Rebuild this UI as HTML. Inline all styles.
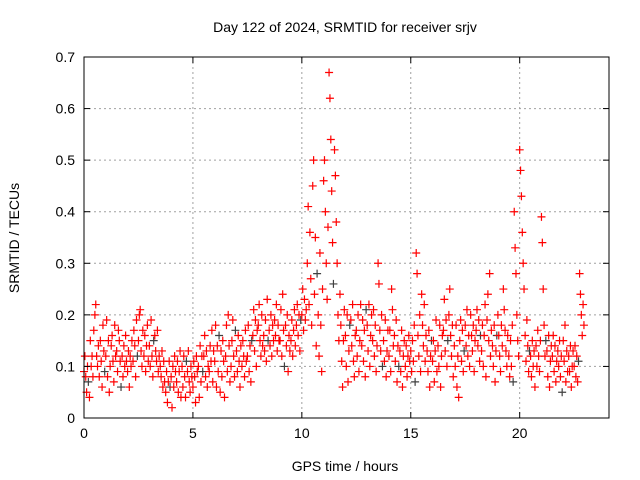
<!DOCTYPE html>
<html><head><meta charset="utf-8"><style>
body{margin:0;background:#fff}
svg{display:block;font-family:"Liberation Sans",sans-serif;font-size:14px}
</style></head><body>
<svg id="chart" width="640" height="480">
<text x="345" y="32" text-anchor="middle">Day 122 of 2024, SRMTID for receiver srjv</text>
<text x="345" y="471" text-anchor="middle">GPS time / hours</text>
<text transform="translate(19,238) rotate(-90)" text-anchor="middle">SRMTID / TECUs</text>
<g id="grid"></g><g id="marks"></g><g id="axes"></g>
</svg>
<script>
const xTicks=[0,5,10,15,20];
const yTicks=[0,0.1,0.2,0.3,0.4,0.5,0.6,0.7];
const yTickLabels=["0","0.1","0.2","0.3","0.4","0.5","0.6","0.7"];
const binHours=[0,0.25,0.5,0.75,1,1.25,1.5,1.75,2,2.25,2.5,2.75,3,3.25,3.5,3.75,4,4.25,4.5,4.75,5,5.25,5.5,5.75,6,6.25,6.5,6.75,7,7.25,7.5,7.75,8,8.25,8.5,8.75,9,9.25,9.5,9.75,10,10.25,10.5,10.75,11,11.25,11.5,11.75,12,12.25,12.5,12.75,13,13.25,13.5,13.75,14,14.25,14.5,14.75,15,15.25,15.5,15.75,16,16.25,16.5,16.75,17,17.25,17.5,17.75,18,18.25,18.5,18.75,19,19.25,19.5,19.75,20,20.25,20.5,20.75,21,21.25,21.5,21.75,22,22.25,22.5,22.75];
const binValues=[
[.09,.12,.08,.05,.10,.07],[.04,.15,.10,.12,.08,.17],[.20,.22,.12,.10,.14,.08],[.15,.11,.06,.18,.13,.09],
[.12,.19,.08,.15,.05,.10],[.14,.16,.11,.07,.18,.12],[.13,.09,.17,.15,.11,.06],[.12,.08,.14,.10,.16,.11],
[.09,.13,.06,.12,.10,.15],[.11,.17,.14,.08,.19,.12],[.15,.20,.21,.13,.10,.17],[.12,.16,.09,.14,.18,.11],
[.14,.10,.19,.12,.08,.15],[.16,.13,.11,.17,.09,.12],[.10,.08,.13,.06,.11,.07],[.05,.09,.03,.07,.11,.06],
[.08,.02,.10,.06,.12,.09],[.07,.11,.05,.09,.13,.04],[.10,.06,.12,.08,.04,.11],[.09,.13,.07,.05,.10,.08],
[.06,.11,.08,.03,.12,.09],[.10,.04,.14,.07,.12,.09],[.12,.16,.08,.13,.06,.10],[.09,.14,.11,.17,.07,.13],
[.11,.18,.06,.14,.09,.16],[.05,.13,.08,.15,.11,.04],[.12,.18,.09,.20,.14,.07],[.10,.15,.19,.12,.08,.17],
[.13,.09,.16,.11,.06,.14],[.10,.15,.12,.08,.17,.11],[.12,.18,.09,.14,.07,.15],[.16,.21,.13,.19,.10,.17],
[.18,.22,.15,.12,.20,.14],[.16,.13,.19,.11,.23,.15],[.17,.14,.20,.12,.18,.15],[.19,.16,.22,.13,.18,.15],
[.15,.21,.12,.24,.17,.10],[.18,.14,.20,.09,.16,.13],[.15,.19,.12,.17,.21,.14],[.18,.22,.16,.20,.13,.19],
[.20,.25,.17,.23,.19,.21],[.30,.41,.22,.36,.27,.18],[.45,.50,.24,.35,.14,.28],[.20,.12,.32,.18,.09,.25],
[.46,.50,.40,.30,.23,.37],[.67,.62,.54,.44,.34,.26],[.52,.47,.38,.30,.20,.15],[.24,.18,.11,.06,.15,.21],
[.16,.10,.20,.07,.13,.18],[.19,.14,.22,.11,.08,.16],[.17,.12,.20,.09,.15,.22],[.14,.19,.11,.17,.08,.21],
[.18,.13,.22,.10,.16,.20],[.15,.21,.12,.18,.09,.14],[.30,.26,.17,.13,.20,.10],[.15,.11,.19,.08,.13,.17],
[.12,.17,.09,.25,.21,.14],[.16,.11,.19,.07,.14,.10],[.13,.09,.17,.06,.12,.15],[.10,.14,.08,.12,.16,.11],
[.13,.09,.15,.11,.18,.07],[.32,.28,.16,.12,.20,.09],[.24,.18,.14,.22,.11,.16],[.13,.09,.17,.06,.12,.15],
[.11,.15,.07,.13,.19,.09],[.14,.10,.18,.06,.12,.16],[.17,.23,.13,.19,.10,.15],[.20,.25,.16,.12,.18,.08],
[.14,.10,.18,.06,.12,.04],[.15,.19,.11,.17,.09,.13],[.18,.14,.21,.12,.16,.10],[.20,.16,.13,.18,.09,.15],
[.17,.21,.14,.19,.11,.16],[.13,.18,.10,.16,.22,.08],[.19,.24,.15,.28,.12,.17],[.14,.10,.18,.07,.13,.16],
[.20,.16,.12,.09,.18,.14],[.25,.21,.17,.13,.10,.16],[.12,.08,.15,.10,.18,.07],[.40,.33,.28,.20,.15,.12],
[.52,.48,.43,.36,.30,.25],[.16,.11,.19,.14,.09,.13],[.12,.08,.15,.10,.13,.06],[.14,.10,.17,.12,.09,.15],
[.39,.34,.25,.18,.12,.15],[.13,.08,.16,.06,.11,.14],[.12,.16,.09,.14,.07,.11],[.13,.10,.15,.08,.12,.05],
[.15,.11,.18,.07,.13,.09],[.12,.09,.14,.06,.10,.13],[.10,.14,.08,.12,.07,.11],[.28,.24,.20,.16,.22,.18]
];
const NS="http://www.w3.org/2000/svg";
const L=84,R=609,T=57,B=418,XMAX=24.1,YMAX=0.7;
function sx(v){return L+v/XMAX*(R-L);}
function sy(v){return B-v/YMAX*(B-T);}
function mk(tag,at,parent){const e=document.createElementNS(NS,tag);for(const k in at)e.setAttribute(k,at[k]);parent.appendChild(e);return e;}
const grid=document.getElementById('grid'),marks=document.getElementById('marks'),axes=document.getElementById('axes');
xTicks.forEach(t=>{
  const x=sx(t);
  if(t>0){const g=mk('line',{x1:x,y1:T,x2:x,y2:B,stroke:'#a0a0a0','stroke-dasharray':'2,3'},grid);
  
  }
  mk('line',{x1:x,y1:B,x2:x,y2:B-6,stroke:'#000'},axes);
  mk('line',{x1:x,y1:T,x2:x,y2:T+6,stroke:'#000'},axes);
  const tx=mk('text',{x:x,y:B+20,'text-anchor':'middle'},axes);tx.textContent=t;
  
  
});
yTicks.forEach((t,i)=>{
  const y=sy(t);
  if(t>0&&t<YMAX){const g=mk('line',{x1:L,y1:y,x2:R,y2:y,stroke:'#a0a0a0','stroke-dasharray':'2,3'},grid);
  
  }
  mk('line',{x1:L,y1:y,x2:L+6,y2:y,stroke:'#000'},axes);
  mk('line',{x1:R,y1:y,x2:R-6,y2:y,stroke:'#000'},axes);
  const tx=mk('text',{x:L-9,y:y+5,'text-anchor':'end'},axes);tx.textContent=yTickLabels[i];
  
  
});
const fr=mk('rect',{x:L,y:T,width:R-L,height:B-T,fill:'none',stroke:'#000'},axes);


binHours.forEach((h,i)=>{
  binValues[i].forEach((v,j)=>{
    const x=sx(h+j*0.04),y=sy(v);
    const p=mk('path',{d:`M${x-4},${y}h8M${x},${y-4}v8`,stroke:(j===5&&i%3===0)?'#404040':'#f00','stroke-width':1.2,fill:'none'},marks);
    
    
  });
});
</script>
</body></html>
